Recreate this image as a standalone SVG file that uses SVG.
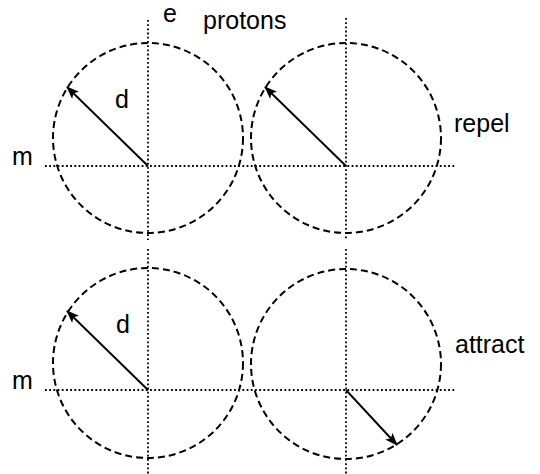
<svg xmlns="http://www.w3.org/2000/svg" width="540" height="474" viewBox="0 0 540 474">
<style>
.circ{fill:none;stroke:#000;stroke-width:2;stroke-dasharray:7 4}
.dot{fill:none;stroke:#000;stroke-width:1.8;stroke-dasharray:1.8 2.4}
.arr{fill:none;stroke:#000;stroke-width:1.9;marker-end:url(#ah)}
text{font-family:"Liberation Sans",Arial,sans-serif;font-size:25px;fill:#000}
</style>
<defs>
<marker id="ah" markerWidth="13" markerHeight="10" refX="12" refY="5" orient="auto" markerUnits="userSpaceOnUse">
<path d="M0,0 L13,5 L0,10 L3,5 Z" fill="#000"/>
</marker>
</defs>
<rect width="540" height="474" fill="#fff"/>
<g id="axes">
<line class="dot" x1="148" y1="20" x2="148" y2="240"/>
<line class="dot" x1="346" y1="18" x2="346" y2="240"/>
<line class="dot" x1="45" y1="166" x2="455" y2="166"/>
<line class="dot" x1="148" y1="249" x2="148" y2="474"/>
<line class="dot" x1="346" y1="249" x2="346" y2="474"/>
<line class="dot" x1="45" y1="390" x2="455" y2="390"/>
</g>
<g id="proton-top-left"><circle class="circ" cx="148" cy="138" r="95"/></g>
<g id="proton-top-right"><circle class="circ" cx="346" cy="138" r="95"/></g>
<g id="proton-bottom-left"><circle class="circ" cx="148" cy="363" r="95"/></g>
<g id="proton-bottom-right"><circle class="circ" cx="346" cy="364" r="95"/></g>
<g id="connectors">
<line class="arr" x1="148" y1="166" x2="67" y2="87"/>
<line class="arr" x1="346" y1="166" x2="265" y2="87"/>
<line class="arr" x1="148" y1="390" x2="67" y2="311"/>
<line class="arr" x1="346" y1="390" x2="397" y2="445"/>
</g>
<g id="labels">
<text x="163" y="22">e</text>
<text x="203" y="29">protons</text>
<text x="12" y="165">m</text>
<text x="115" y="108">d</text>
<text x="454" y="132">repel</text>
<text x="12" y="389">m</text>
<text x="116" y="333">d</text>
<text x="455" y="353">attract</text>
</g>
</svg>
